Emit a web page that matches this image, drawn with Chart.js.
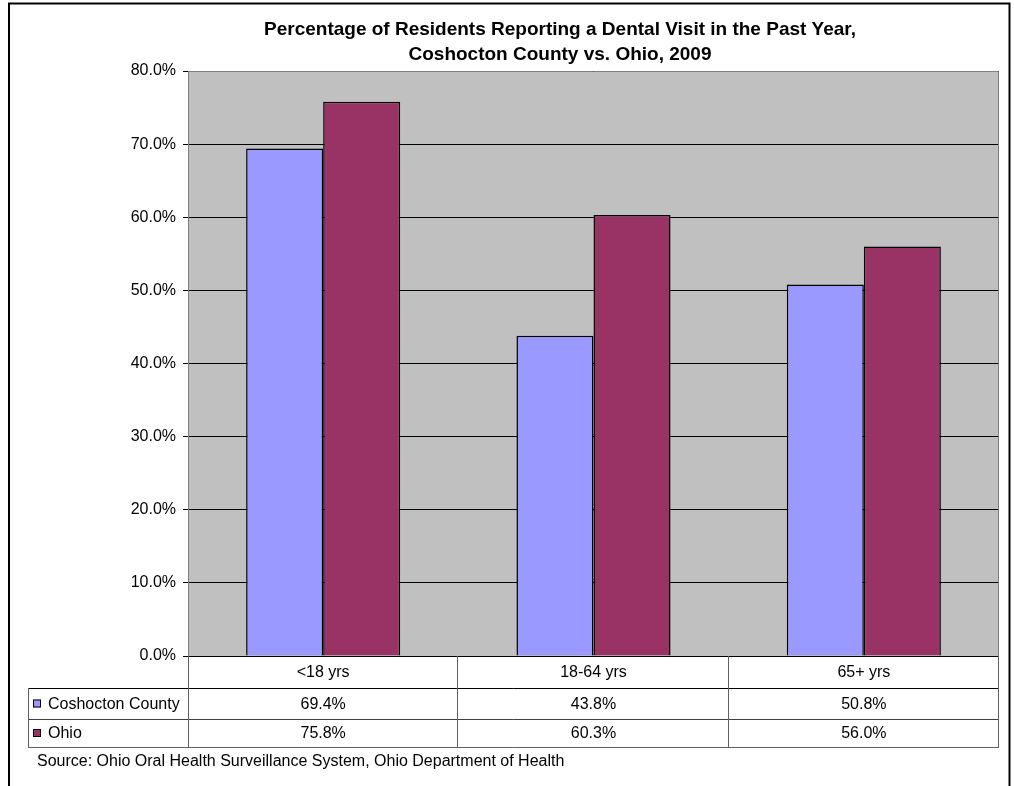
<!DOCTYPE html>
<html>
<head>
<meta charset="utf-8">
<script src="https://cdn.jsdelivr.net/npm/chart.js@4/dist/chart.umd.min.js"></script>
<style>
html,body{margin:0;padding:0;background:#fff;}
canvas{display:block;}
</style>
</head>
<body>
<canvas id="c" width="1014" height="786"></canvas>
<script>
const categories = ['<18 yrs', '18-64 yrs', '65+ yrs'];
const coshocton = [69.4, 43.8, 50.8];
const ohio = [75.8, 60.3, 56.0];
const seriesNames = ['Coshocton County', 'Ohio'];
const seriesColors = ['#9999FF', '#993366'];
const titleLines = ['Percentage of Residents Reporting a Dental Visit in the Past Year,', 'Coshocton County vs. Ohio, 2009'];
const sourceText = 'Source: Ohio Oral Health Surveillance System, Ohio Department of Health';
const yTicks = [0, 10, 20, 30, 40, 50, 60, 70, 80];

const FONT = '"Liberation Sans", Arial, sans-serif';

const decor = {
  id: 'decor',
  beforeDraw(chart) {
    const ctx = chart.ctx, a = chart.chartArea;
    ctx.save();
    ctx.fillStyle = '#fff';
    ctx.fillRect(0, 0, chart.width, chart.height);
    ctx.fillStyle = '#C0C0C0';
    ctx.fillRect(a.left, a.top, a.right - a.left, a.bottom - a.top);
    // outer border
    ctx.strokeStyle = '#000';
    ctx.lineWidth = 2;
    ctx.beginPath();
    ctx.moveTo(9, 800); ctx.lineTo(9, 3.5); ctx.lineTo(1009.5, 3.5); ctx.lineTo(1009.5, 800);
    ctx.stroke();
    // title
    ctx.fillStyle = '#000';
    ctx.font = 'bold 19px ' + FONT;
    ctx.textAlign = 'center';
    ctx.textBaseline = 'middle';
    ctx.fillText(titleLines[0], 560, 30);
    ctx.fillText(titleLines[1], 560, 55);
    ctx.restore();
  },
  afterDraw(chart) {
    const ctx = chart.ctx, a = chart.chartArea, xs = chart.scales.x;
    const n = categories.length;
    const w = (a.right - a.left) / n;
    ctx.save();
    // plot border (gray) top/left/right
    ctx.strokeStyle = '#808080';
    ctx.lineWidth = 1;
    ctx.beginPath();
    ctx.moveTo(a.left + 0.5, a.bottom); ctx.lineTo(a.left + 0.5, a.top + 0.5);
    ctx.lineTo(a.right - 0.5, a.top + 0.5); ctx.lineTo(a.right - 0.5, a.bottom);
    ctx.stroke();

    // data table
    const rowH = [32, 31, 28];
    const r0 = a.bottom, r1 = r0 + rowH[0], r2 = r1 + rowH[1], r3 = r2 + rowH[2];
    const tableLeft = 28.5;
    ctx.strokeStyle = '#000';
    ctx.beginPath();
    ctx.moveTo(a.left, r0 + 0.5); ctx.lineTo(a.right, r0 + 0.5);
    ctx.moveTo(tableLeft, r1 + 0.5); ctx.lineTo(a.right, r1 + 0.5);
    ctx.stroke();
    ctx.strokeStyle = '#404040';
    ctx.beginPath();
    ctx.moveTo(tableLeft, r2 + 0.5); ctx.lineTo(a.right, r2 + 0.5);
    ctx.stroke();
    ctx.strokeStyle = '#606060';
    ctx.beginPath();
    ctx.moveTo(tableLeft, r3 + 0.5); ctx.lineTo(a.right, r3 + 0.5);
    ctx.moveTo(tableLeft, r1); ctx.lineTo(tableLeft, r3 + 1);
    ctx.moveTo(a.left + 0.5, r0); ctx.lineTo(a.left + 0.5, r3 + 1);
    for (let i = 0; i < n; i++) {
      const xr = Math.round(xs.getPixelForValue(i) + w / 2) - 0.5;
      ctx.moveTo(xr, r0); ctx.lineTo(xr, r3 + 1);
    }
    ctx.stroke();

    ctx.fillStyle = '#000';
    ctx.font = '16px ' + FONT;
    ctx.textAlign = 'center';
    ctx.textBaseline = 'middle';
    const data = [coshocton, ohio];
    for (let i = 0; i < n; i++) {
      const cx = xs.getPixelForValue(i);
      ctx.fillText(categories[i], cx, (r0 + r1) / 2 + 1);
      ctx.fillText(data[0][i].toFixed(1) + '%', cx, (r1 + r2) / 2 + 1);
      ctx.fillText(data[1][i].toFixed(1) + '%', cx, (r2 + r3) / 2 + 1);
    }
    const rowsMid = [(r1 + r2) / 2, (r2 + r3) / 2];
    ctx.textAlign = 'left';
    for (let s = 0; s < 2; s++) {
      ctx.fillStyle = seriesColors[s];
      ctx.fillRect(33, rowsMid[s] - 4, 8, 8);
      ctx.strokeStyle = '#000';
      ctx.strokeRect(33.5, rowsMid[s] - 3.5, 7, 7);
      ctx.fillStyle = '#000';
      ctx.fillText(seriesNames[s], 48, rowsMid[s] + 1);
    }
    ctx.font = '16px ' + FONT;
    ctx.fillText(sourceText, 37, 762);
    ctx.restore();
  }
};

new Chart(document.getElementById('c'), {
  type: 'bar',
  data: {
    labels: categories,
    datasets: [
      { label: seriesNames[0], data: coshocton, backgroundColor: seriesColors[0], borderColor: '#000', borderWidth: 1.5 },
      { label: seriesNames[1], data: ohio, backgroundColor: seriesColors[1], borderColor: '#000', borderWidth: 1.5 }
    ]
  },
  options: {
    responsive: false,
    animation: false,
    devicePixelRatio: 1,
    layout: { padding: { left: 0, top: 71, right: 15, bottom: 130 } },
    datasets: { bar: { categoryPercentage: 0.57, barPercentage: 1.0 } },
    plugins: { legend: { display: false }, title: { display: false }, tooltip: { enabled: false } },
    scales: {
      x: { display: false },
      y: {
        min: 0, max: 80,
        afterFit(scale) { scale.width = 188; },
        afterBuildTicks(scale) { scale.ticks = yTicks.map(v => ({ value: v })); },
        ticks: {
          color: '#000',
          padding: 7,
          font: { family: FONT, size: 16 },
          callback: v => Number(v).toFixed(1) + '%'
        },
        grid: { color: '#000', lineWidth: 1, tickLength: 5, drawTicks: true },
        border: { display: true, color: '#808080' }
      }
    }
  },
  plugins: [decor]
});
</script>
</body>
</html>
